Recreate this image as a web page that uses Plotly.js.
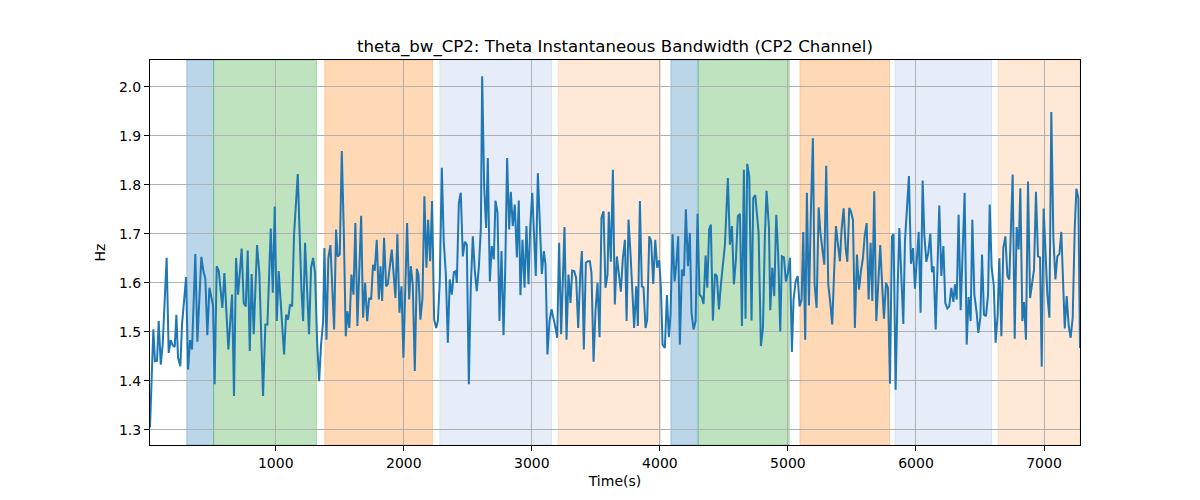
<!DOCTYPE html>
<html>
<head>
<meta charset="utf-8">
<script src="https://cdn.plot.ly/plotly-3.0.1.min.js"></script>
<style>
  html, body { margin: 0; padding: 0; background: #fff; }
  #chart { width: 1200px; height: 500px; }
</style>
</head>
<body>
<div id="chart"></div>
<script>
// time in seconds
const timeSec = [
  18, 44, 57, 73, 86, 102, 117, 148, 164, 180, 195, 211, 224, 237, 255, 268, 300, 315, 331, 346,
  372, 388, 419, 435, 450, 466, 482, 510, 523, 539, 555, 583, 599, 630, 659, 674, 690, 706, 734, 750,
  766, 781, 797, 812, 828, 854, 872, 901, 919, 935, 961, 977, 992, 1008, 1023, 1065, 1081, 1096, 1112, 1128,
  1143, 1172,
  1200, 1214, 1229, 1245, 1260, 1276, 1292, 1307, 1323, 1339, 1354, 1370, 1380, 1396, 1411, 1427, 1443, 1456, 1471, 1484,
  1500, 1516, 1531, 1547, 1560, 1575, 1591, 1607, 1622, 1638, 1667, 1682, 1698, 1714, 1729, 1745, 1760, 1773, 1789, 1805,
  1818, 1831, 1846, 1862, 1875, 1891, 1906, 1935, 1950, 1966, 1982, 1997, 2026, 2042, 2055, 2070, 2086, 2102, 2115, 2130,
  2146, 2161, 2177, 2190, 2206, 2221, 2237, 2253, 2266, 2281, 2297, 2312, 2328, 2344, 2359, 2375, 2391, 2406,
  2414, 2430, 2445, 2461, 2477, 2492, 2508, 2523, 2539, 2555, 2570, 2586, 2602, 2612, 2628, 2643, 2656, 2672, 2687, 2703,
  2716, 2732, 2747, 2763, 2779, 2792, 2807, 2823, 2836, 2851, 2867, 2883, 2898, 2911, 2927, 2943, 2958, 2974, 2987, 3003,
  3018, 3031, 3047, 3062, 3078, 3094, 3107, 3122, 3138, 3154, 3169, 3185, 3198, 3213, 3229, 3255, 3271, 3286, 3302, 3315,
  3331, 3346, 3362, 3378, 3391, 3406, 3422, 3437, 3453, 3466, 3482, 3497, 3513, 3529, 3544, 3560, 3575, 3591, 3601, 3617,
  3633,
  3648, 3664, 3680, 3695, 3711, 3727, 3740, 3755, 3771, 3786, 3799, 3815, 3828, 3844, 3859, 3872, 3888, 3901, 3917, 3932,
  3948, 3964, 3979, 3995, 4008, 4021, 4039, 4055, 4070, 4083, 4099, 4115, 4128, 4143, 4156, 4172, 4188, 4203, 4219, 4234,
  4247, 4263, 4279, 4294, 4310, 4326, 4341, 4357, 4370, 4385, 4398, 4414, 4430, 4445, 4461, 4477, 4492, 4508, 4531, 4547,
  4563, 4578, 4594, 4609, 4625, 4641, 4656, 4669, 4682, 4698, 4716, 4729, 4745, 4771, 4789, 4805, 4820, 4833,
  4852, 4862, 4878, 4893, 4909, 4924, 4940, 4953, 4969, 4984, 5000, 5016, 5031, 5044, 5060, 5076, 5091, 5107, 5120, 5135,
  5148, 5164, 5180, 5195, 5208, 5224, 5240, 5253, 5268, 5284, 5299, 5315, 5331, 5346, 5359, 5375, 5391, 5406, 5419, 5435,
  5451, 5464, 5479, 5492, 5508, 5523, 5539, 5555, 5570, 5586, 5599, 5615, 5630, 5646, 5659, 5674, 5690, 5706, 5721, 5737,
  5750, 5766, 5781, 5797, 5812, 5825, 5841, 5857, 5870, 5885, 5901, 5914, 5930, 5945, 5961, 5977, 5992, 6008, 6021, 6036,
  6052,
  6065, 6081, 6096, 6112, 6125, 6138, 6154, 6169, 6182, 6198, 6214, 6229, 6245, 6260, 6276, 6292, 6305, 6318, 6333, 6349,
  6365, 6380, 6396, 6411, 6427, 6440, 6456, 6474, 6487, 6503, 6516, 6531, 6547, 6563, 6576, 6591, 6607, 6622, 6638, 6651,
  6667, 6682, 6698, 6714, 6729, 6755, 6771, 6786, 6802, 6815, 6831, 6844, 6859, 6875, 6891, 6906, 6922, 6937, 6953, 6969,
  6982, 6997, 7013, 7026, 7042, 7057, 7073, 7089, 7104, 7120, 7135, 7151, 7162, 7177, 7193, 7208, 7224, 7240, 7253, 7268,
  7281
];

// theta bandwidth (Hz)
const thetaBw = [
  1.305, 1.505, 1.440, 1.441, 1.522, 1.433, 1.474, 1.651, 1.457, 1.483, 1.473, 1.469, 1.535, 1.447, 1.430, 1.515, 1.612, 1.423, 1.483, 1.464,
  1.659, 1.480, 1.653, 1.624, 1.609, 1.493, 1.590, 1.554, 1.393, 1.634, 1.624, 1.549, 1.620, 1.464, 1.576, 1.369, 1.651, 1.576, 1.670, 1.559,
  1.552, 1.666, 1.461, 1.618, 1.495, 1.677, 1.620, 1.369, 1.515, 1.515, 1.711, 1.580, 1.756, 1.522, 1.624, 1.454, 1.535, 1.525, 1.556, 1.552,
  1.699, 1.822,
  1.590, 1.522, 1.682, 1.576, 1.495, 1.631, 1.651, 1.620, 1.481, 1.399, 1.474, 1.522, 1.671, 1.484, 1.651, 1.677, 1.576, 1.505, 1.709, 1.654,
  1.658, 1.869, 1.712, 1.491, 1.542, 1.508, 1.617, 1.576, 1.722, 1.512, 1.737, 1.529, 1.600, 1.522, 1.569, 1.566, 1.637, 1.625, 1.688, 1.566,
  1.634, 1.563, 1.692, 1.593, 1.597, 1.631, 1.668, 1.569, 1.699, 1.539, 1.593, 1.447, 1.722, 1.566, 1.634, 1.597, 1.420, 1.629, 1.617, 1.525,
  1.569, 1.777, 1.631, 1.729, 1.644, 1.767, 1.525, 1.508, 1.522, 1.603, 1.835, 1.685, 1.620, 1.478, 1.607, 1.576, 1.622, 1.624,
  1.600, 1.763, 1.784, 1.654, 1.684, 1.678, 1.393, 1.590, 1.695, 1.624, 1.583, 1.631, 1.712, 2.022, 1.794, 1.712, 1.855, 1.603, 1.675, 1.648,
  1.768, 1.743, 1.522, 1.665, 1.493, 1.624, 1.855, 1.709, 1.786, 1.716, 1.760, 1.652, 1.768, 1.575, 1.688, 1.590, 1.716, 1.597, 1.712, 1.784,
  1.671, 1.614, 1.824, 1.705, 1.618, 1.665, 1.637, 1.454, 1.522, 1.546, 1.529, 1.508, 1.488, 1.682, 1.495, 1.714, 1.484, 1.617, 1.559, 1.625,
  1.624, 1.610, 1.508, 1.617, 1.665, 1.464, 1.641, 1.644, 1.644, 1.620, 1.439, 1.542, 1.600, 1.489, 1.733, 1.746, 1.590, 1.617, 1.745, 1.643,
  1.831,
  1.556, 1.654, 1.610, 1.582, 1.651, 1.688, 1.522, 1.729, 1.658, 1.580, 1.508, 1.593, 1.512, 1.767, 1.593, 1.591, 1.508, 1.525, 1.695, 1.685,
  1.598, 1.688, 1.631, 1.646, 1.590, 1.474, 1.467, 1.575, 1.489, 1.535, 1.699, 1.603, 1.637, 1.695, 1.474, 1.627, 1.614, 1.750, 1.634, 1.702,
  1.539, 1.505, 1.522, 1.741, 1.576, 1.571, 1.557, 1.656, 1.590, 1.709, 1.719, 1.523, 1.618, 1.614, 1.546, 1.598, 1.631, 1.678, 1.814, 1.678,
  1.716, 1.597, 1.648, 1.736, 1.741, 1.512, 1.831, 1.527, 1.843, 1.818, 1.523, 1.773, 1.779, 1.702, 1.471, 1.508, 1.695, 1.788,
  1.712, 1.544, 1.631, 1.573, 1.739, 1.658, 1.501, 1.654, 1.652, 1.603, 1.620, 1.651, 1.459, 1.566, 1.603, 1.614, 1.552, 1.566, 1.704, 1.484,
  1.784, 1.554, 1.753, 1.895, 1.597, 1.549, 1.754, 1.705, 1.671, 1.637, 1.839, 1.597, 1.559, 1.515, 1.610, 1.716, 1.678, 1.644, 1.709, 1.752,
  1.671, 1.643, 1.753, 1.746, 1.728, 1.508, 1.658, 1.586, 1.624, 1.651, 1.695, 1.722, 1.566, 1.682, 1.563, 1.787, 1.522, 1.617, 1.677, 1.590,
  1.527, 1.600, 1.590, 1.394, 1.695, 1.699, 1.382, 1.590, 1.712, 1.617, 1.516, 1.685, 1.760, 1.818, 1.639, 1.671, 1.588, 1.651, 1.704, 1.539,
  1.809,
  1.699, 1.643, 1.661, 1.700, 1.622, 1.634, 1.505, 1.641, 1.758, 1.614, 1.675, 1.559, 1.548, 1.552, 1.590, 1.561, 1.597, 1.566, 1.739, 1.544,
  1.688, 1.784, 1.474, 1.571, 1.522, 1.729, 1.576, 1.539, 1.498, 1.529, 1.658, 1.535, 1.532, 1.576, 1.760, 1.631, 1.597, 1.478, 1.535, 1.650,
  1.491, 1.671, 1.695, 1.614, 1.607, 1.821, 1.486, 1.714, 1.668, 1.793, 1.522, 1.561, 1.484, 1.807, 1.569, 1.597, 1.627, 1.786, 1.654, 1.652,
  1.429, 1.752, 1.644, 1.576, 1.529, 1.949, 1.692, 1.607, 1.654, 1.659, 1.704, 1.603, 1.507, 1.573, 1.512, 1.488, 1.529, 1.712, 1.792, 1.773,
  1.467
];

// shaded epochs
const epochStart = [305, 515, 1383, 2281, 3206, 4086, 4299, 5094, 5836, 6641];
const epochEnd   = [515, 1318, 2224, 3154, 4005, 4299, 5010, 5794, 6591, 7281];
const epochColor = [
  'rgba(31,119,180,0.3)', 'rgba(44,160,44,0.3)', 'rgba(255,127,14,0.3)', 'rgba(120,160,220,0.19)', 'rgba(255,127,14,0.17)',
  'rgba(31,119,180,0.3)', 'rgba(44,160,44,0.3)', 'rgba(255,127,14,0.3)', 'rgba(120,160,220,0.19)', 'rgba(255,127,14,0.17)'
];

const shapes = epochStart.map((s, i) => ({
  type: 'rect',
  xref: 'x',
  yref: 'paper',
  x0: s,
  x1: epochEnd[i],
  y0: 0,
  y1: 1,
  fillcolor: epochColor[i],
  line: { width: 1, color: epochColor[i] },
  layer: 'below',
}));

const trace = {
  x: timeSec,
  y: thetaBw,
  type: 'scatter',
  mode: 'lines',
  line: { color: '#1f77b4', width: 2 },
  hoverinfo: 'x+y',
};

const axisStyle = {
  showline: true,
  mirror: true,
  linecolor: 'black',
  linewidth: 1,
  ticks: 'outside',
  ticklen: 5,
  tickwidth: 1,
  tickcolor: 'black',
  showgrid: true,
  gridcolor: '#b0b0b0',
  gridwidth: 1,
  zeroline: false,
  tickfont: { size: 14, color: 'black' },
};

const layout = {
  width: 1200,
  height: 500,
  margin: { l: 150, r: 120, t: 60, b: 55 },
  paper_bgcolor: 'white',
  plot_bgcolor: 'white',
  font: { family: 'DejaVu Sans, sans-serif', color: 'black' },
  showlegend: false,
  title: {
    text: 'theta_bw_CP2: Theta Instantaneous Bandwidth (CP2 Channel)',
    font: { size: 16.6, color: 'black' },
    x: 0.5,
    xref: 'paper',
    y: 0.908,
    yanchor: 'middle',
  },
  xaxis: Object.assign({}, axisStyle, {
    range: [18, 7281],
    tickmode: 'linear',
    tick0: 0,
    dtick: 1000,
    title: { text: 'Time(s)', font: { size: 14 }, standoff: 6 },
  }),
  yaxis: Object.assign({}, axisStyle, {
    range: [1.269, 2.055],
    tickmode: 'linear',
    tick0: 1.3,
    dtick: 0.1,
    tickformat: '.1f',
    title: { text: 'Hz', font: { size: 14 }, standoff: 10 },
  }),
  shapes: shapes,
};

Plotly.newPlot('chart', [trace], layout, { displayModeBar: false, staticPlot: true });
</script>
</body>
</html>
